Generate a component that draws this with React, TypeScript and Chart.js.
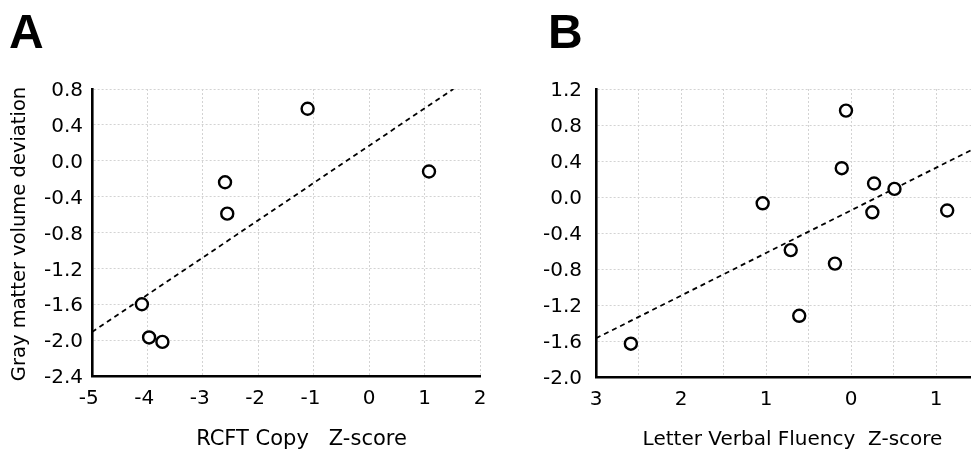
import React, { useEffect, useRef } from 'react';
import { Chart, registerables } from 'chart.js';

Chart.register(...registerables);

// Panel A: RCFT Copy Z-score vs gray matter volume deviation
const rcftX = [-4.10, -3.97, -3.73, -2.60, -2.56, -1.11, 1.08];
const rcftY = [-1.60, -1.97, -2.02, -0.24, -0.59, 0.58, -0.12];
const rcftFitX = [-5, 1.52];
const rcftFitY = [-1.91, 0.80];

// Panel B: Letter Verbal Fluency Z-score vs gray matter volume deviation
const fluencyX = [2.59, 1.04, 0.71, 0.61, 0.19, 0.11, 0.06, -0.27, -0.25, -0.51, -1.13];
const fluencyY = [-1.63, -0.07, -0.59, -1.32, -0.74, 0.32, 0.96, 0.15, -0.17, 0.09, -0.15];
const fluencyFitX = [3, -1.41];
const fluencyFitY = [-1.57, 0.52];

const panelLabels = ['A', 'B'];
const xTitles = ['RCFT Copy   Z-score', 'Letter Verbal Fluency  Z-score'];
const yTitle = 'Gray matter volume deviation';

const FONT = '"DejaVu Sans", sans-serif';
const BOLD = '"Liberation Sans", Arial, sans-serif';

type Caption = { text: string; x: number; y: number; font: string; align: CanvasTextAlign; rotate?: number };

function captionPlugin(items: Caption[]) {
  return {
    id: 'captions',
    afterDraw(chart: any) {
      const ctx = chart.ctx as CanvasRenderingContext2D;
      items.forEach((it) => {
        ctx.save();
        ctx.font = it.font;
        ctx.fillStyle = '#000';
        ctx.textAlign = it.align;
        ctx.textBaseline = 'alphabetic';
        ctx.translate(it.x, it.y);
        if (it.rotate) ctx.rotate(it.rotate);
        ctx.fillText(it.text, 0, 0);
        ctx.restore();
      });
    },
  };
}

const fmt1 = (v: number) => (Math.abs(v) < 1e-9 ? 0 : v).toFixed(1);

function scatterSets(xs: number[], ys: number[], fx: number[], fy: number[]) {
  return [
    {
      data: xs.map((x, i) => ({ x, y: ys[i] })),
      pointRadius: 6,
      pointBorderWidth: 2.4,
      pointBorderColor: '#000',
      pointBackgroundColor: '#fff',
      showLine: false,
    },
    {
      data: fx.map((x, i) => ({ x, y: fy[i] })),
      showLine: true,
      borderColor: '#000',
      borderWidth: 1.8,
      borderDash: [5, 4],
      pointRadius: 0,
      fill: false,
    },
  ];
}

const gridOpts = { color: '#d3d3d3', lineWidth: 1, drawTicks: false };
const borderOpts = { color: '#000', width: 2.6, dash: [2, 2] };
const tickFont = { family: FONT, size: 20 };

const fitX = (h: number) => (s: any) => {
  s.height = h;
  s.paddingLeft = 0;
  s.paddingRight = 0;
};
const fitY = (w: number) => (s: any) => {
  s.width = w;
  s.paddingTop = 0;
  s.paddingBottom = 0;
};

export default function App() {
  const refA = useRef<HTMLCanvasElement | null>(null);
  const refB = useRef<HTMLCanvasElement | null>(null);

  useEffect(() => {
    const chartA = new Chart(refA.current as HTMLCanvasElement, {
      type: 'scatter',
      data: { datasets: scatterSets(rcftX, rcftY, rcftFitX, rcftFitY) as any },
      options: {
        responsive: false,
        animation: false,
        devicePixelRatio: 1,
        layout: { autoPadding: false, padding: { top: 89, right: 10, bottom: 0, left: 0 } },
        plugins: { legend: { display: false }, tooltip: { enabled: false } },
        scales: {
          x: {
            type: 'linear',
            min: -5,
            max: 2,
            ticks: {
              stepSize: 1,
              padding: 11,
              color: '#000',
              font: tickFont,
              callback: (v: any) => (v < 0 ? `${v} ` : `${v}`),
            },
            grid: gridOpts,
            border: borderOpts,
            afterFit: fitX(74),
          },
          y: {
            type: 'linear',
            min: -2.4,
            max: 0.8,
            ticks: {
              stepSize: 0.4,
              padding: 9,
              labelOffset: 2,
              color: '#000',
              font: tickFont,
              callback: (v: any) => fmt1(Number(v)),
            },
            grid: gridOpts,
            border: borderOpts,
            afterFit: fitY(92),
          },
        },
      } as any,
      plugins: [
        captionPlugin([
          { text: panelLabels[0], x: 9, y: 48, font: `bold 48px ${BOLD}`, align: 'left' },
          { text: xTitles[0], x: 301.5, y: 445, font: `21px ${FONT}`, align: 'center' },
          { text: yTitle, x: 25, y: 234, font: `19.5px ${FONT}`, align: 'center', rotate: -Math.PI / 2 },
        ]),
      ],
    });

    const chartB = new Chart(refB.current as HTMLCanvasElement, {
      type: 'scatter',
      data: { datasets: scatterSets(fluencyX, fluencyY, fluencyFitX, fluencyFitY) as any },
      options: {
        responsive: false,
        animation: false,
        devicePixelRatio: 1,
        layout: { autoPadding: false, padding: { top: 89, right: 0, bottom: 0, left: 0 } },
        plugins: { legend: { display: false }, tooltip: { enabled: false } },
        scales: {
          x: {
            type: 'linear',
            min: -1.41,
            max: 3,
            reverse: true,
            ticks: {
              stepSize: 0.5,
              includeBounds: false,
              padding: 11,
              color: '#000',
              font: tickFont,
              callback: (v: any) => (Number.isInteger(Number(v)) ? `${Math.abs(Number(v))}` : ''),
            },
            grid: gridOpts,
            border: borderOpts,
            afterFit: fitX(73),
          },
          y: {
            type: 'linear',
            min: -2.0,
            max: 1.2,
            ticks: {
              stepSize: 0.4,
              padding: 14,
              labelOffset: 2,
              color: '#000',
              font: tickFont,
              callback: (v: any) => fmt1(Number(v)),
            },
            grid: gridOpts,
            border: borderOpts,
            afterFit: fitY(106),
          },
        },
      } as any,
      plugins: [
        captionPlugin([
          { text: panelLabels[1], x: 58, y: 48, font: `bold 48px ${BOLD}`, align: 'left' },
          { text: xTitles[1], x: 302.5, y: 445, font: `20px ${FONT}`, align: 'center' },
        ]),
      ],
    });

    return () => {
      chartA.destroy();
      chartB.destroy();
    };
  }, []);

  return (
    <div style={{ position: 'absolute', left: 0, top: 0, width: 971, height: 450, background: '#fff', overflow: 'hidden' }}>
      <canvas ref={refA} width={490} height={450} style={{ position: 'absolute', left: 0, top: 0, width: 490, height: 450 }} />
      <canvas ref={refB} width={481} height={450} style={{ position: 'absolute', left: 490, top: 0, width: 481, height: 450 }} />
    </div>
  );
}
